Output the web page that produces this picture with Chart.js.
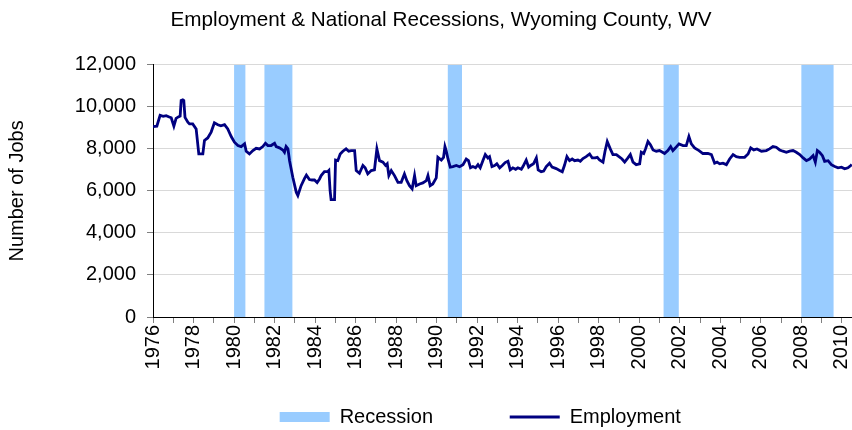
<!DOCTYPE html>
<html lang="en">
<head>
<meta charset="UTF-8">
<title>Employment & National Recessions, Wyoming County, WV</title>
<script src="https://cdn.jsdelivr.net/npm/chart.js"></script>
<style>
    * { margin: 0; padding: 0; box-sizing: border-box; }
    body { background: #ffffff; width: 852px; height: 430px; overflow: hidden; }
    #wrap { width: 852px; height: 430px; }
</style>
</head>
<body>
<div id="wrap"><canvas id="jobsChart"></canvas></div>
<script>
// Employment readings (year as decimal, number of jobs)
const empYears = [
    1976.0, 1976.19, 1976.35, 1976.5, 1976.65, 1976.8, 1976.9, 1977.03, 1977.14, 1977.25,
    1977.34, 1977.39, 1977.47, 1977.52, 1977.58, 1977.72, 1977.8, 1977.96, 1978.13, 1978.26,
    1978.46, 1978.54, 1978.7, 1978.87, 1979.03, 1979.2, 1979.35, 1979.53, 1979.69, 1979.86,
    1980.02, 1980.19, 1980.35, 1980.52, 1980.6, 1980.76, 1980.93, 1981.09, 1981.26, 1981.42,
    1981.55, 1981.67, 1981.83, 1982.0, 1982.08, 1982.24, 1982.41, 1982.49, 1982.57, 1982.66,
    1982.74, 1982.9, 1983.07, 1983.15, 1983.31, 1983.48, 1983.57, 1983.72, 1983.85, 1983.97,
    1984.1, 1984.22, 1984.3, 1984.46, 1984.63, 1984.68, 1984.74, 1984.79, 1984.96, 1985.01,
    1985.12, 1985.24, 1985.37, 1985.53, 1985.66, 1985.78, 1985.95, 1986.03, 1986.19, 1986.36,
    1986.47, 1986.6, 1986.77, 1986.93, 1987.05, 1987.18, 1987.35, 1987.48, 1987.56, 1987.64,
    1987.76, 1987.92, 1988.09, 1988.25, 1988.41, 1988.53, 1988.66, 1988.79, 1988.91, 1988.99,
    1989.16, 1989.32, 1989.49, 1989.57, 1989.68, 1989.81, 1989.98, 1990.06, 1990.23, 1990.34,
    1990.41, 1990.47, 1990.56, 1990.67, 1990.8, 1990.97, 1991.13, 1991.3, 1991.46, 1991.57,
    1991.67, 1991.79, 1991.92, 1992.04, 1992.15, 1992.28, 1992.4, 1992.53, 1992.61, 1992.73,
    1992.86, 1992.97, 1993.11, 1993.24, 1993.38, 1993.52, 1993.63, 1993.76, 1993.9, 1994.01,
    1994.18, 1994.26, 1994.42, 1994.54, 1994.64, 1994.78, 1994.92, 1995.01, 1995.16, 1995.28,
    1995.41, 1995.57, 1995.7, 1995.9, 1996.07, 1996.2, 1996.31, 1996.43, 1996.56, 1996.69,
    1996.81, 1996.97, 1997.09, 1997.22, 1997.38, 1997.55, 1997.68, 1997.83, 1997.93, 1998.04,
    1998.21, 1998.31, 1998.42, 1998.57, 1998.7, 1998.87, 1999.0, 1999.15, 1999.28, 1999.44,
    1999.56, 1999.69, 1999.85, 2000.02, 2000.1, 2000.22, 2000.31, 2000.43, 2000.55, 2000.68,
    2000.84, 2001.0, 2001.25, 2001.41, 2001.55, 2001.66, 2001.79, 2001.96, 2002.16, 2002.32,
    2002.45, 2002.57, 2002.73, 2002.95, 2003.14, 2003.39, 2003.56, 2003.72, 2003.84, 2003.97,
    2004.13, 2004.3, 2004.46, 2004.63, 2004.79, 2004.95, 2005.2, 2005.37, 2005.5, 2005.65,
    2005.81, 2006.03, 2006.27, 2006.43, 2006.6, 2006.76, 2006.93, 2007.09, 2007.26, 2007.42,
    2007.59, 2007.75, 2007.92, 2008.09, 2008.25, 2008.41, 2008.58, 2008.69, 2008.79, 2008.9,
    2009.04, 2009.15, 2009.32, 2009.48, 2009.65, 2009.81, 2009.98, 2010.14, 2010.3, 2010.44,
    2010.49
];
const empJobs = [
    9060, 9080, 9600, 9550, 9580, 9520, 9480, 9080, 9450, 9520,
    9560, 10300, 10330, 10300, 9500, 9270, 9190, 9190, 8950, 7760,
    7760, 8400, 8520, 8800, 9240, 9150, 9100, 9150, 8950, 8590,
    8320, 8160, 8110, 8240, 7890, 7760, 7920, 8030, 8000, 8110,
    8270, 8160, 8160, 8270, 8110, 8050, 7950, 7840, 8110, 8000,
    7440, 6650, 5940, 5780, 6250, 6600, 6750, 6540, 6520, 6520,
    6400, 6570, 6730, 6920, 6920, 6970, 6020, 5590, 5590, 7470,
    7440, 7760, 7890, 8000, 7890, 7920, 7920, 6970, 6840, 7210,
    7100, 6810, 6970, 7000, 8000, 7440, 7370, 7210, 7290, 6730,
    6970, 6730, 6410, 6410, 6810, 6490, 6250, 6100, 6730, 6250,
    6330, 6380, 6490, 6730, 6250, 6330, 6620, 7600, 7470, 7600,
    8110, 7920, 7520, 7130, 7160, 7210, 7150, 7250, 7520, 7440,
    7100, 7160, 7100, 7250, 7100, 7440, 7730, 7570, 7630, 7160,
    7210, 7290, 7100, 7210, 7350, 7410, 7000, 7100, 7030, 7100,
    7030, 7160, 7470, 7130, 7210, 7290, 7570, 7000, 6910, 6940,
    7160, 7320, 7130, 7060, 6970, 6910, 7220, 7630, 7440, 7520,
    7440, 7470, 7410, 7540, 7630, 7760, 7570, 7570, 7600, 7470,
    7370, 7890, 8350, 8000, 7730, 7730, 7630, 7520, 7370, 7570,
    7730, 7370, 7250, 7290, 7840, 7780, 8000, 8350, 8200, 7950,
    7890, 7920, 7780, 7920, 8110, 7920, 8050, 8240, 8160, 8160,
    8590, 8240, 8050, 7920, 7780, 7780, 7730, 7320, 7370, 7290,
    7320, 7250, 7520, 7730, 7630, 7600, 7600, 7760, 8050, 7950,
    8000, 7890, 7920, 8000, 8110, 8080, 7950, 7890, 7840, 7890,
    7920, 7840, 7730, 7570, 7440, 7520, 7680, 7370, 7920, 7840,
    7680, 7410, 7440, 7250, 7160, 7100, 7130, 7050, 7100, 7210,
    7260
];

// National recessions (start / end, decimal years)
const recessionStart = [1980.0, 1981.5, 1990.55, 2001.2, 2008.0];
const recessionEnd = [1980.56, 1982.88, 1991.25, 2001.95, 2009.6];

const yMin = 0;
const yMax = 12000;
const yStep = 2000;
const xMin = 1976;
const xMax = 2010.5;

const employmentPoints = empYears.map((yr, i) => ({ x: yr, y: empJobs[i] }));

// each recession becomes a filled block from 0 up to the top of the axis
const recessionPoints = [];
recessionStart.forEach((s, i) => {
    recessionPoints.push({ x: s, y: yMin }, { x: s, y: yMax }, { x: recessionEnd[i], y: yMax }, { x: recessionEnd[i], y: yMin });
});

// the original title sits a little right of the canvas centre
const titleNudge = {
    id: 'titleNudge',
    afterLayout(chart) {
        chart.titleBlock.left += 30;
    }
};

Chart.defaults.font.family = '"Liberation Sans", Arial, sans-serif';
Chart.defaults.font.size = 20;
Chart.defaults.color = '#000000';

const ctx = document.getElementById('jobsChart').getContext('2d');

new Chart(ctx, {
    type: 'line',
    data: {
        datasets: [
            {
                label: 'Employment',
                data: employmentPoints,
                borderColor: '#000080',
                backgroundColor: '#000080',
                borderWidth: 2.8,
                pointRadius: 0,
                pointStyle: 'line',
                tension: 0,
                fill: false
            },
            {
                label: 'Recession',
                data: recessionPoints,
                borderColor: 'rgba(0,0,0,0)',
                backgroundColor: '#99ccff',
                borderWidth: 0,
                pointRadius: 0,
                pointStyle: 'rect',
                tension: 0,
                fill: 'origin'
            }
        ]
    },
    options: {
        responsive: true,
        maintainAspectRatio: false,
        animation: false,
        events: [],
        layout: {
            padding: { left: 0, right: 0, top: 0, bottom: -7 }
        },
        plugins: {
            title: {
                display: true,
                text: 'Employment & National Recessions, Wyoming County, WV',
                color: '#000000',
                font: { size: 20.7, weight: 'normal' },
                padding: { top: 8, bottom: 32 }
            },
            legend: {
                position: 'bottom',
                fullSize: false,
                reverse: true,
                labels: {
                    usePointStyle: true,
                    pointStyleWidth: 50,
                    boxHeight: 10,
                    padding: 10,
                    color: '#000000',
                    font: { size: 20 },
                    // widen the items so they sit apart like the original
                    generateLabels: chart => {
                        const items = Chart.defaults.plugins.legend.labels.generateLabels(chart);
                        items.forEach(item => {
                            item.text = item.text + (item.datasetIndex === 1 ? ' '.repeat(12) : ' '.repeat(8));
                        });
                        return items;
                    }
                }
            },
            tooltip: { enabled: false }
        },
        scales: {
            x: {
                type: 'linear',
                min: xMin,
                max: xMax,
                z: 1,
                ticks: {
                    stepSize: 1,
                    includeBounds: false,
                    autoSkip: false,
                    minRotation: 90,
                    maxRotation: 90,
                    padding: 2,
                    color: '#000000',
                    font: { size: 20 },
                    callback: v => (v % 2 === 0 ? String(v) : '')
                },
                grid: {
                    drawOnChartArea: false,
                    tickColor: '#808080',
                    tickLength: 6
                },
                border: { color: '#000000', width: 1 },
                afterFit: scale => {
                    scale.height = 80;
                    scale.paddingRight = 0; // plot runs to the right edge
                }
            },
            y: {
                min: yMin,
                max: yMax,
                ticks: {
                    stepSize: yStep,
                    padding: 11,
                    color: '#000000',
                    font: { size: 20 },
                    callback: v => v.toLocaleString('en-US')
                },
                grid: {
                    color: '#d9d9d9',
                    lineWidth: 1,
                    tickColor: '#808080',
                    tickLength: 6
                },
                border: { color: '#000000', width: 1 },
                title: {
                    display: true,
                    text: 'Number of Jobs',
                    color: '#000000',
                    font: { size: 20 },
                    padding: { top: 5, bottom: 0 }
                },
                afterFit: scale => { scale.width = 153; }
            }
        }
    },
    plugins: [titleNudge]
});
</script>
</body>
</html>
